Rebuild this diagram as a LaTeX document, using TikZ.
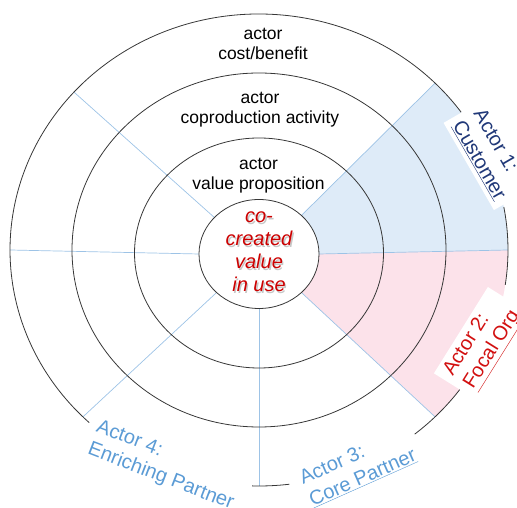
\documentclass[tikz,border=0pt]{standalone}
\usepackage{fontspec}
\setmainfont{Liberation Sans}
\definecolor{ringc}{RGB}{55,55,55}
\definecolor{spokec}{RGB}{157,195,230}
\definecolor{bluefill}{RGB}{222,235,248}
\definecolor{pinkfill}{RGB}{252,226,234}
\definecolor{navylbl}{RGB}{32,56,120}
\definecolor{redlbl}{RGB}{210,16,16}
\definecolor{lightbluelbl}{RGB}{91,155,213}
\definecolor{cored}{RGB}{204,0,0}
\begin{document}
\begin{tikzpicture}[x=1pt,y=1pt,
  ring/.style={draw=ringc, line width=0.8pt},
  spoke/.style={draw=spokec, line width=0.7pt},
  toplbl/.style={font=\fontsize{17.5}{20}\selectfont, align=center, inner sep=0pt, text=black},
  actorlbl/.style={font=\fontsize{20}{24}\selectfont, align=left, inner xsep=7pt, inner ysep=4pt},
  centertxt/.style={font=\fontsize{20}{23}\selectfont\itshape, align=center, inner sep=0pt}
]
\useasboundingbox (0,0) rectangle (517,508);
% spoke end points on inner and outer rings
\path[shift={(259,254)}]
  (0:60 and 54.5) coordinate (i0)
  (45:60 and 54.5) coordinate (i45)
  (138:60 and 54.5) coordinate (i138)
  (180:60 and 54.5) coordinate (i180)
  (225:60 and 54.5) coordinate (i225)
  (270:60 and 54.5) coordinate (i270)
  (315:60 and 54.5) coordinate (i315);
\path[shift={(259,258)}]
  (0:249 and 236) coordinate (o0)
  (45:249 and 236) coordinate (o45)
  (138:249 and 236) coordinate (o138)
  (180:249 and 236) coordinate (o180)
  (225:249 and 236) coordinate (o225)
  (270:249 and 236) coordinate (o270)
  (315:249 and 236) coordinate (o315);
% shaded sectors
\fill[bluefill] (i0) -- (o0) arc[start angle=0,end angle=45,x radius=249,y radius=236]
  -- (i45) arc[start angle=45,end angle=0,x radius=60,y radius=54.5] -- cycle;
\fill[pinkfill] (i0) -- (o0) arc[start angle=0,end angle=-45,x radius=249,y radius=236]
  -- (i315) arc[start angle=-45,end angle=0,x radius=60,y radius=54.5] -- cycle;
% spokes
\draw[spoke] (i0) -- (o0);
\draw[spoke] (i45) -- (o45);
\draw[spoke] (i138) -- (o138);
\draw[spoke] (i180) -- (o180);
\draw[spoke] (i225) -- (o225);
\draw[spoke] (i270) -- (o270);
\draw[spoke] (i315) -- (o315);
% rings
\draw[ring] (259,254) ellipse [x radius=60, y radius=54.5];
\draw[ring] (259,255) ellipse [x radius=124.5, y radius=115];
\draw[ring] (259,258) ellipse [x radius=187, y radius=177];
\begin{scope}[shift={(259,258)}]
\draw[ring] (35.7:249 and 236) arc[start angle=35.7,end angle=227,x radius=249,y radius=236];
\draw[ring] (268.4:249 and 236) arc[start angle=268.4,end angle=277,x radius=249,y radius=236];
\draw[ring] (308.7:249 and 236) arc[start angle=308.7,end angle=324.3,x radius=249,y radius=236];
\draw[ring] (-8.5:249 and 236) arc[start angle=-8.5,end angle=10.5,x radius=249,y radius=236];
\end{scope}
% ring labels
\node[toplbl] (t1) at (263,464) {actor\\cost/benefit};
\node[toplbl] (t2) at (260,398) {actor\\coproduction activity};
\node[toplbl] (t3) at (258.5,332) {actor\\value proposition};
% centre
\node[centertxt, text=black!22] (cvs) at (260.4,254.6) {co-\\created\\value\\in use};
\node[centertxt, text=cored] (cv) at (259,256) {co-\\created\\value\\in use};
% actor labels
\node[actorlbl, fill=white, text=navylbl, rotate=-60] (a1) at (489.5,353.5) {Actor 1:\\\underline{Customer}};
\node[actorlbl, fill=white, text=redlbl, rotate=58] (a2) at (483,164) {Actor 2:\\\underline{Focal Org}};
\node[actorlbl, text=lightbluelbl, rotate=24] (a3) at (358,41) {Actor 3:\\\underline{Core Partner}};
\node[actorlbl, text=lightbluelbl, rotate=-21] (a4) at (165,42) {Actor 4:\\Enriching Partner};
\end{tikzpicture}
\end{document}
